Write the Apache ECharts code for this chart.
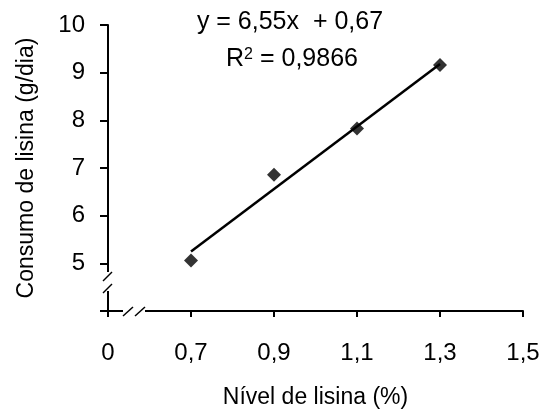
<!DOCTYPE html>
<html><head><meta charset="utf-8">
<script src="https://cdn.jsdelivr.net/npm/echarts@6/dist/echarts.min.js"></script>
<style>html,body{margin:0;padding:0;background:#fff}#c{width:543px;height:409px}</style>
</head><body><div id="c"></div>
<script>
const xValues = [0.7, 0.9, 1.1, 1.3];
const yValues = [5.06, 6.86, 7.83, 9.16];
const trendX = [0.7, 1.3];
const trendY = [5.25, 9.18];
const eqText = 'y = 6,55x  + 0,67';
const r2Value = '0,9866';
const xTitle = 'Nível de lisina (%)';
const yTitle = 'Consumo de lisina (g/dia)';

const FONT = 'Liberation Sans';
const chart = echarts.init(document.getElementById('c'));
const option = {
  animation: false,
  backgroundColor: '#fff',
  grid: {left: 108, right: 20, top: 25, bottom: 98, containLabel: false, outerBoundsMode: 'none'},
  xAxis: {
    type: 'value', min: 0.5, max: 1.5, interval: 0.2,
    axisLine: {lineStyle: {color: '#000', width: 2}},
    axisTick: {show: true, length: 6, lineStyle: {color: '#000', width: 2}},
    splitLine: {show: false},
    axisLabel: {color: '#000', fontFamily: FONT, fontSize: 24, margin: 30,
      formatter: v => Math.abs(v - 0.5) < 1e-6 ? '0' : v.toFixed(1).replace('.', ',')},
    name: xTitle, nameLocation: 'middle', nameGap: 75,
    nameTextStyle: {color: '#000', fontFamily: FONT, fontSize: 23}
  },
  yAxis: {
    type: 'value', min: 4, max: 10, interval: 1,
    axisLine: {lineStyle: {color: '#000', width: 2}},
    axisTick: {show: true, length: 8, lineStyle: {color: '#000', width: 2}},
    splitLine: {show: false},
    axisLabel: {color: '#000', fontFamily: FONT, fontSize: 24, margin: 23,
      formatter: v => v === 4 ? '' : String(v)},
    name: yTitle, nameLocation: 'middle', nameGap: 70,
    nameTextStyle: {color: '#000', fontFamily: FONT, fontSize: 23}
  },
  series: [
    {type: 'line', data: trendX.map((x, i) => [x, trendY[i]]), symbol: 'none',
     lineStyle: {color: '#000', width: 2.5}, z: 2},
    {type: 'scatter', data: xValues.map((x, i) => [x, yValues[i]]), symbol: 'diamond',
     symbolSize: 14, itemStyle: {color: '#000'}, z: 3}
  ]
};
chart.setOption(option);

const p = (x, y) => chart.convertToPixel({gridIndex: 0}, [x, y]);
const origin = p(0.5, 4);
const ax = origin[0], ay = origin[1];
const graphics = [
  {type: 'text', z: 50, style: {text: eqText, x: 290, y: 22, align: 'center', verticalAlign: 'middle',
    fill: '#000', fontFamily: FONT, fontSize: 25}},
  {type: 'text', z: 50, style: {x: 292, y: 59, align: 'center', verticalAlign: 'middle',
    rich: {n: {fill: '#000', fontFamily: FONT, fontSize: 25},
           s: {fill: '#000', fontFamily: FONT, fontSize: 16, verticalAlign: 'top'}},
    text: '{n|R}{s|2}{n| = ' + r2Value + '}'}}
];
// y-axis break
graphics.push({type: 'rect', shape: {x: ax - 4, y: ay - 39, width: 8, height: 19}, style: {fill: '#fff'}, z: 100});
graphics.push({type: 'line', shape: {x1: ax - 5, y1: ay - 30, x2: ax + 4, y2: ay - 39}, style: {stroke: '#000', lineWidth: 1.5}, z: 101});
graphics.push({type: 'line', shape: {x1: ax - 5, y1: ay - 18, x2: ax + 4, y2: ay - 27}, style: {stroke: '#000', lineWidth: 1.5}, z: 101});
// x-axis break
graphics.push({type: 'rect', shape: {x: ax + 15, y: ay - 4, width: 22, height: 8}, style: {fill: '#fff'}, z: 100});
graphics.push({type: 'line', shape: {x1: ax + 15, y1: ay + 5, x2: ax + 25, y2: ay - 4}, style: {stroke: '#000', lineWidth: 1.5}, z: 101});
graphics.push({type: 'line', shape: {x1: ax + 27, y1: ay + 5, x2: ax + 37, y2: ay - 4}, style: {stroke: '#000', lineWidth: 1.5}, z: 101});
chart.setOption({graphic: graphics});
</script></body></html>
